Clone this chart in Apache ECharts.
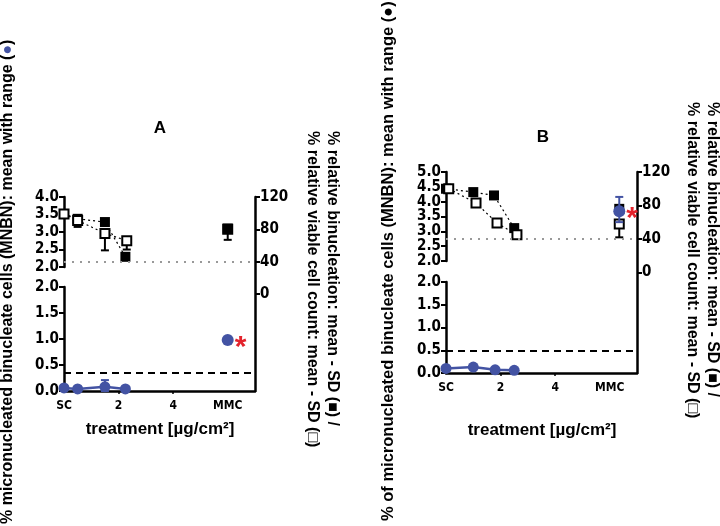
<!DOCTYPE html>
<html><head><meta charset="utf-8">
<script src="https://cdn.jsdelivr.net/npm/echarts@6/dist/echarts.min.js"></script>
<style>html,body{margin:0;padding:0;background:#fff}#c{width:720px;height:526px}</style>
</head><body><div id="c"></div>
<script>
// ---------- data ----------
const xTickValues = [0, 2, 4, 6];
const xTickLabels = ['SC', '2', '4', 'MMC'];
const rightTicks = [0, 40, 80, 120];

// Panel A
const concBinucA = [0, 0.5, 1.5, 2.25];
const binucA = [99, 93, 89, 46];
const concViableA = [0, 0.5, 1.5, 2.3];
const viableA = [99, 91, 75, 66];
const viableLowA = [99, 83, 54, 55];
const concMnbnA = [0, 0.5, 1.5, 2.25];
const mnbnA = [0.06, 0.04, 0.08, 0.04];
const mnbnLowA = [0.06, 0.04, 0.0, 0.04];
const mnbnHighA = [0.06, 0.04, 0.21, 0.04];
const mmcXA = 6;
const mmcBinucA = 81;
const mmcViableA = 80;
const mmcViableLowA = 67;
const mmcMnbnA = 0.98;
const dashedA = 0.36;
const viabilityLimit = 40;

// Panel B
const concBinucB = [0, 1.0, 1.76, 2.5];
const binucB = [100, 96, 92, 53];
const concViableB = [0.1, 1.1, 1.87, 2.6];
const viableB = [100, 83, 59, 45];
const concMnbnB = [0, 1.0, 1.8, 2.5];
const mnbnB = [0.1, 0.13, 0.07, 0.06];
const mmcXB = 6.35;
const mmcBinucB = 76;
const mmcViableB = 58;
const mmcViableLowB = 42;
const mmcMnbnB = 3.68;
const mmcMnbnLowB = 3.31;
const mmcMnbnHighB = 4.16;
const dashedB = 0.5;

// ---------- styling ----------
const BLUE = '#4353a3';
const RED = '#e3232c';
const NARROW = "'Liberation Sans Narrow', 'DejaVu Sans Condensed', 'Liberation Sans', Arial, sans-serif";
const SANS = "'Liberation Sans', Arial, sans-serif";
const pair = (xs, ys) => xs.map((x, i) => [x, ys[i]]);

function errItem(capBoth, color) {
  return function (params, api) {
    const x = api.value(0), lo = api.value(1), hi = api.value(2);
    const a = api.coord([x, hi]), b = api.coord([x, lo]);
    const cw = 4;
    const ch = [{ type: 'line', shape: { x1: a[0], y1: a[1], x2: b[0], y2: b[1] }, style: { stroke: color, lineWidth: 2 } },
                { type: 'line', shape: { x1: b[0] - cw, y1: b[1], x2: b[0] + cw, y2: b[1] }, style: { stroke: color, lineWidth: 2 } }];
    if (capBoth) ch.push({ type: 'line', shape: { x1: a[0] - cw, y1: a[1], x2: a[0] + cw, y2: a[1] }, style: { stroke: color, lineWidth: 2 } });
    return { type: 'group', children: ch };
  };
}

const axisLine = { show: true, onZero: false, lineStyle: { color: '#000', width: 2.5 } };
const leftLabel = { fontFamily: NARROW, fontWeight: 'bold', fontSize: 15, color: '#000', margin: 5, formatter: v => v.toFixed(1) };

function panel(g) {
  const grids = [
    { left: g.left, right: g.right, top: g.top, bottom: 526 - g.bottom },
    { left: g.left, right: g.right, top: g.top, height: g.upBottom - g.top },
    { left: g.left, right: g.right, top: g.lowTop, height: g.bottom - g.lowTop }
  ];
  const xAxes = [
    { gridIndex: g.gi, type: 'value', min: 0, max: 7, axisLine: axisLine, splitLine: { show: false },
      axisTick: { show: true, customValues: [2, 4], length: 3, lineStyle: { width: 1.5, color: '#000' } },
      axisLabel: { customValues: xTickValues, formatter: v => xTickLabels[xTickValues.indexOf(v)],
                   fontFamily: NARROW, fontWeight: 'bold', fontSize: 12, color: '#000', margin: 9 } },
    { gridIndex: g.gi + 1, type: 'value', min: 0, max: 7, show: false },
    { gridIndex: g.gi + 2, type: 'value', min: 0, max: 7, show: false }
  ];
  const yAxes = [
    { gridIndex: g.gi, type: 'value', position: 'right', min: -120, max: 120, interval: 40,
      axisLine: axisLine, splitLine: { show: false },
      axisTick: { show: true, customValues: rightTicks, length: 5, lineStyle: { width: 2, color: '#000' } },
      axisLabel: { customValues: rightTicks, fontFamily: NARROW, fontWeight: 'bold', fontSize: 15, color: '#000', margin: 5 } },
    { gridIndex: g.gi + 1, type: 'value', min: 2, max: g.upMax, interval: 0.5, axisLine: axisLine, splitLine: { show: false },
      axisTick: { show: true, length: 5, lineStyle: { width: 2, color: '#000' } }, axisLabel: leftLabel },
    { gridIndex: g.gi + 2, type: 'value', min: 0, max: 2, interval: 0.5, axisLine: axisLine, splitLine: { show: false },
      axisTick: { show: true, length: 5, lineStyle: { width: 2, color: '#000' } }, axisLabel: leftLabel }
  ];
  return { grids, xAxes, yAxes };
}

const geoA = { gi: 0, left: 64, right: 720 - 255, top: 197, upBottom: 267, lowTop: 287, bottom: 391, upMax: 4 };
const geoB = { gi: 3, left: 446, right: 720 - 637, top: 172, upBottom: 261, lowTop: 282, bottom: 373, upMax: 5 };
const pA = panel(geoA), pB = panel(geoB);

const dotted = { color: '#000', width: 1.2, type: [2, 3] };
const filledSq = { color: '#000', opacity: 1 };
const openSq = { color: '#fff', borderColor: '#000', borderWidth: 2, opacity: 1 };
const blueDot = { color: BLUE, opacity: 1 };

function panelSeries(gi, d) {
  const s = [];
  s.push({ type: 'line', xAxisIndex: gi, yAxisIndex: gi, data: pair(d.concBinuc, d.binuc), symbol: 'rect', symbolSize: 10,
    itemStyle: filledSq, lineStyle: dotted, clip: false, z: 3,
    markLine: { silent: true, symbol: 'none', label: { show: false }, lineStyle: { color: '#999', width: 2, type: [2, 6] },
      data: [{ yAxis: viabilityLimit }] } });
  s.push({ type: 'scatter', xAxisIndex: gi, yAxisIndex: gi, data: [[d.mmcX, d.mmcBinuc]], symbol: 'rect', symbolSize: 10, itemStyle: filledSq, z: 3 });
  s.push({ type: 'custom', xAxisIndex: gi, yAxisIndex: gi, renderItem: errItem(false, '#000'), z: 2,
    data: d.viableLow.map((lo, i) => [d.concViable[i], lo, d.viable[i]]).concat([[d.mmcX, d.mmcViableLow, d.mmcViable]]) });
  s.push({ type: 'line', xAxisIndex: gi, yAxisIndex: gi, data: pair(d.concViable, d.viable), symbol: 'rect', symbolSize: 9,
    itemStyle: openSq, lineStyle: dotted, clip: false, z: 4 });
  s.push({ type: 'scatter', xAxisIndex: gi, yAxisIndex: gi, data: [[d.mmcX, d.mmcViable]], symbol: 'rect', symbolSize: 9, itemStyle: openSq, z: d.openMmcZ });
  s.push({ type: 'line', xAxisIndex: gi + 2, yAxisIndex: gi + 2, data: pair(d.concMnbn, d.mnbn), symbol: 'circle', symbolSize: 11,
    itemStyle: blueDot, lineStyle: { color: BLUE, width: 2.5 }, clip: false, z: 6,
    markLine: { silent: true, symbol: 'none', label: { show: false }, lineStyle: { color: '#000', width: 2, type: [7, 5] },
      data: [{ yAxis: d.dashed }] } });
  if (d.mnbnLow) {
    s.push({ type: 'custom', xAxisIndex: gi + 2, yAxisIndex: gi + 2, renderItem: errItem(true, BLUE), z: 5, clip: false,
      data: d.mnbnLow.map((lo, i) => [d.concMnbn[i], lo, d.mnbnHigh[i]]).filter(r => r[2] - r[1] > 0.01) });
  }
  const star = { show: true, formatter: '*', position: 'right', distance: 1, color: RED, fontSize: 30, fontWeight: 'bold',
    fontFamily: SANS, offset: [0, 8] };
  if (d.mmcOnUpper) {
    s.push({ type: 'custom', xAxisIndex: gi + 1, yAxisIndex: gi + 1, renderItem: errItem(true, BLUE), z: 7, clip: false,
      data: [[d.mmcX, d.mmcMnbnLow, d.mmcMnbnHigh]] });
    s.push({ type: 'scatter', xAxisIndex: gi + 1, yAxisIndex: gi + 1, data: [[d.mmcX, d.mmcMnbn]], symbol: 'circle', symbolSize: 12,
      itemStyle: blueDot, label: star, z: 8 });
  } else {
    s.push({ type: 'scatter', xAxisIndex: gi + 2, yAxisIndex: gi + 2, data: [[d.mmcX, d.mmcMnbn]], symbol: 'circle', symbolSize: 12,
      itemStyle: blueDot, label: star, z: 8 });
  }
  return s;
}

const seriesA = panelSeries(0, { concBinuc: concBinucA, binuc: binucA, concViable: concViableA, viable: viableA, viableLow: viableLowA,
  concMnbn: concMnbnA, mnbn: mnbnA, mnbnLow: mnbnLowA, mnbnHigh: mnbnHighA, mmcX: mmcXA, mmcBinuc: mmcBinucA, mmcViable: mmcViableA,
  mmcViableLow: mmcViableLowA, mmcMnbn: mmcMnbnA, dashed: dashedA, mmcOnUpper: false, openMmcZ: 2 });
const seriesB = panelSeries(3, { concBinuc: concBinucB, binuc: binucB, concViable: concViableB, viable: viableB, viableLow: viableB,
  concMnbn: concMnbnB, mnbn: mnbnB, mnbnLow: null, mmcX: mmcXB, mmcBinuc: mmcBinucB, mmcViable: mmcViableB,
  mmcViableLow: mmcViableLowB, mmcMnbn: mmcMnbnB, mmcMnbnLow: mmcMnbnLowB, mmcMnbnHigh: mmcMnbnHighB, dashed: dashedB,
  mmcOnUpper: true, openMmcZ: 4 });

function txt(x, y, text, size, rot, align, rich) {
  const font = 'bold ' + size + 'px ' + SANS;
  const st = { text: text, fill: '#000', font: font, fontWeight: 'bold', fontSize: size, fontFamily: SANS,
      align: align || 'center', verticalAlign: 'middle', textAlign: align || 'center', textVerticalAlign: 'middle' };
  if (rich) st.rich = rich;
  return { type: 'text', x: x, y: y, rotation: rot || 0, style: st };
}
const blueRich = { b: { fill: BLUE, color: BLUE, font: 'bold 16px ' + SANS, fontWeight: 'bold', fontSize: 16, fontFamily: SANS } };

const graphics = [
  txt(160, 128, 'A', 17),
  txt(543, 137, 'B', 17),
  txt(160, 429, 'treatment [µg/cm²]', 17),
  txt(542, 430, 'treatment [µg/cm²]', 17),
  txt(8, 524, '% micronucleated binucleate cells (MNBN): mean with range ({b|●})', 16, Math.PI / 2, 'left', blueRich),
  txt(388, 521, '% of micronucleated binucleate cells (MNBN): mean with range (●)', 16.5, Math.PI / 2, 'left'),
  txt(332, 131, '% relative binucleation: mean - SD (■) /', 16, -Math.PI / 2, 'left'),
  txt(312, 131, '% relative viable cell count: mean - SD (□)', 16, -Math.PI / 2, 'left'),
  txt(712, 102, '% relative binucleation: mean - SD (■) /', 16, -Math.PI / 2, 'left'),
  txt(692, 102, '% relative viable cell count: mean - SD (□)', 16, -Math.PI / 2, 'left')
];
const chart = echarts.init(document.getElementById('c'), null, { renderer: 'canvas' });
chart.setOption({
  animation: false,
  backgroundColor: '#fff',
  grid: pA.grids.concat(pB.grids),
  xAxis: pA.xAxes.concat(pB.xAxes),
  yAxis: pA.yAxes.concat(pB.yAxes),
  series: seriesA.concat(seriesB),
  graphic: graphics
});
</script></body></html>
